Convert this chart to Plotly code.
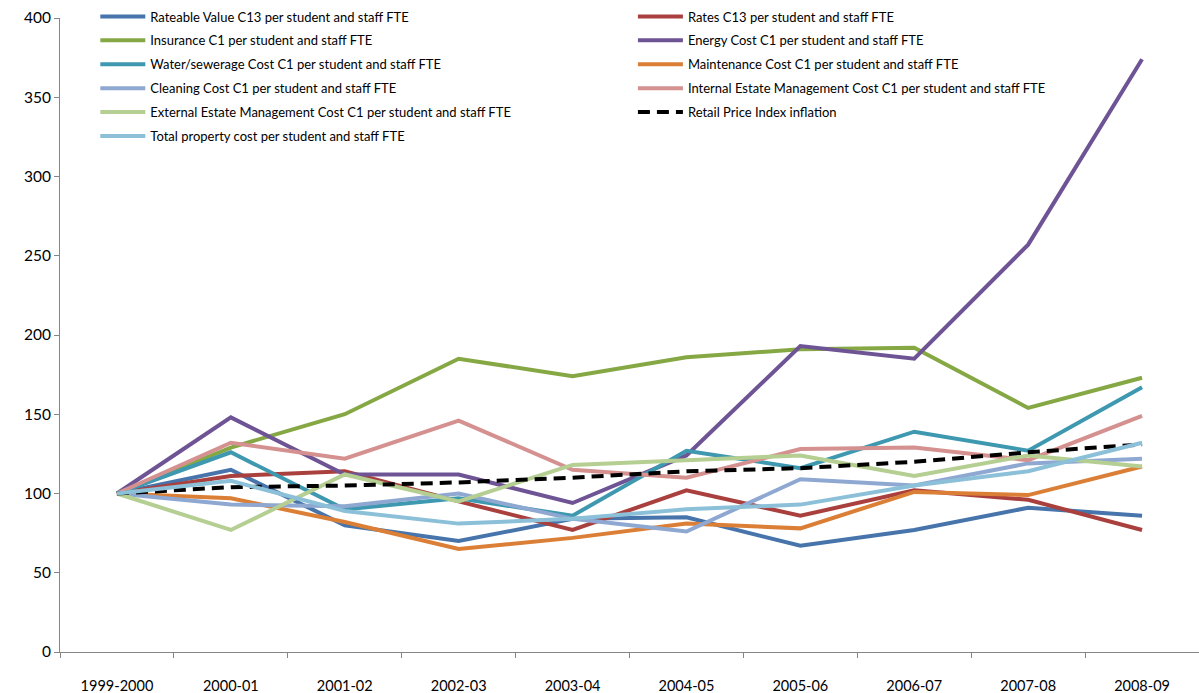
import plotly.graph_objects as go

years = ["1999-2000", "2000-01", "2001-02", "2002-03", "2003-04", "2004-05",
         "2005-06", "2006-07", "2007-08", "2008-09"]

rateable = [100, 115, 80, 70, 84, 85, 67, 77, 91, 86]
rates = [100, 111, 114, 95, 77, 102, 86, 102, 96, 77]
insurance = [100, 129, 150, 185, 174, 186, 191, 192, 154, 173]
energy = [100, 148, 112, 112, 94, 124, 193, 185, 257, 374]
water = [100, 126, 90, 97, 86, 127, 116, 139, 127, 167]
maintenance = [100, 97, 82, 65, 72, 81, 78, 101, 99, 117]
cleaning = [100, 93, 92, 100, 84, 76, 109, 105, 119, 122]
internal = [100, 132, 122, 146, 115, 110, 128, 129, 121, 149]
external = [100, 77, 112, 95, 118, 121, 124, 111, 124, 117]
rpi = [100, 104, 105, 107, 110, 114, 116, 120, 126, 131]
total = [100, 108, 89, 81, 84, 90, 93, 105, 114, 132]

series = [
    ("Rateable Value C13 per student and staff FTE", rateable, "#4674AB", "solid", "legend"),
    ("Rates C13 per student and staff FTE", rates, "#A9403E", "solid", "legend2"),
    ("Insurance C1 per student and staff FTE", insurance, "#86A844", "solid", "legend"),
    ("Energy Cost C1 per student and staff FTE", energy, "#6E5494", "solid", "legend2"),
    ("Water/sewerage Cost C1 per student and staff FTE", water, "#3E98B0", "solid", "legend"),
    ("Maintenance Cost C1 per student and staff FTE", maintenance, "#DB7F36", "solid", "legend2"),
    ("Cleaning Cost C1 per student and staff FTE", cleaning, "#8EA8D2", "solid", "legend"),
    ("Internal Estate Management Cost C1 per student and staff FTE", internal, "#D49190", "solid", "legend2"),
    ("External Estate Management Cost C1 per student and staff FTE", external, "#B5CE92", "solid", "legend"),
    ("Retail Price Index inflation", rpi, "#000000", "12px,7px", "legend2"),
    ("Total property cost per student and staff FTE", total, "#8CC0D8", "solid", "legend"),
]

fig = go.Figure()
for i, (name, vals, color, dash, lg) in enumerate(series):
    fig.add_trace(go.Scatter(
        x=years, y=vals, name=name, mode="lines",
        line=dict(color=color, width=4, dash=dash),
        legend=lg, legendgroup=f"g{i}",
    ))

font_family = "Lato, Calibri, sans-serif"
legend_common = dict(yanchor="top", xanchor="left", bgcolor="rgba(0,0,0,0)",
                     font=dict(size=13, family=font_family),
                     tracegroupgap=4, orientation="v", itemwidth=45)
fig.update_layout(
    width=1199, height=693,
    margin=dict(l=60, r=0, t=18, b=41),
    plot_bgcolor="white", paper_bgcolor="white",
    font=dict(family=font_family, size=14, color="#000000"),
    showlegend=True,
    legend=dict(x=0.031, y=1.026, **legend_common),
    legend2=dict(x=0.503, y=1.026, **legend_common),
    xaxis=dict(
        type="category", range=[-0.5, 9.5],
        showgrid=False, zeroline=False,
        showline=True, linecolor="#868686", linewidth=1,
        ticks="outside", ticklen=5, tickcolor="#868686", tickson="boundaries",
        ticklabelstandoff=21, tickfont=dict(size=14.5),
    ),
    yaxis=dict(
        range=[0, 400], dtick=50, showgrid=False, zeroline=False,
        showline=True, linecolor="#868686", linewidth=1,
        ticks="outside", ticklen=5, tickcolor="#868686",
        tickfont=dict(size=15.5),
    ),
)

fig.write_html("out.html", config={"displayModeBar": False},
               post_script="document.body.style.margin='0';")
